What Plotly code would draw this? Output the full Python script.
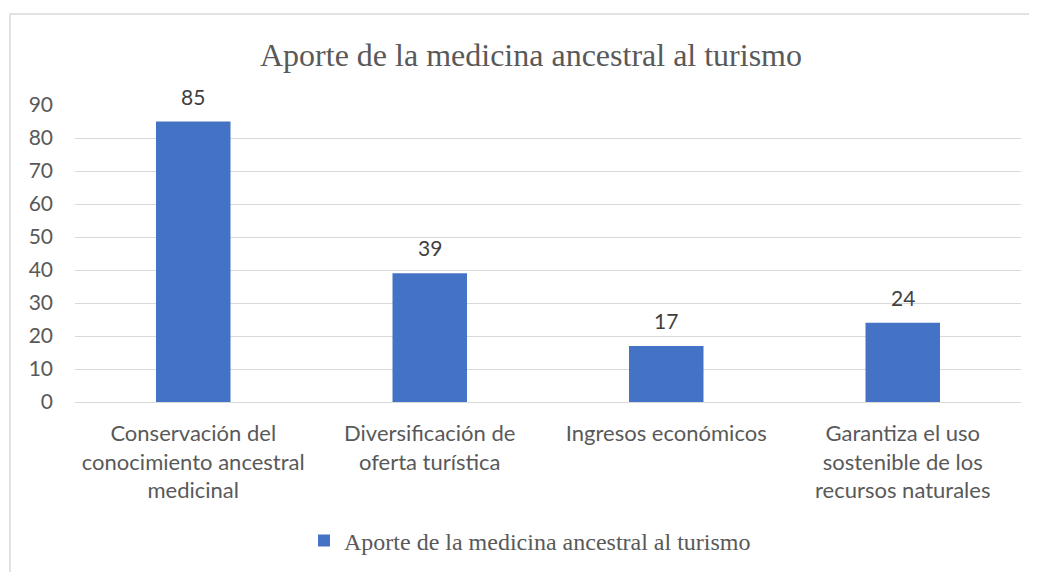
import plotly.graph_objects as go

categories = [
    "Conservación del<br>conocimiento ancestral<br>medicinal",
    "Diversificación de<br>oferta turística",
    "Ingresos económicos",
    "Garantiza el uso<br>sostenible de los<br>recursos naturales",
]
values = [85, 39, 17, 24]
series_name = "Aporte de la medicina ancestral al turismo"
title_text = "Aporte de la medicina ancestral al turismo"
y_ticks = [0, 10, 20, 30, 40, 50, 60, 70, 80, 90]

# page body has an 8px margin; compensate in figure coordinates
OFF = 8
W, H = 1037, 572
L, T = 75 - OFF, 105 - OFF
R = W - (1021 - OFF)
B = H - (402 - OFF)
pw = W - L - R
ph = H - T - B

SANS = "Lato, 'Open Sans', sans-serif"
SERIF = "'Liberation Serif', 'Times New Roman', serif"

fig = go.Figure()
fig.add_trace(go.Bar(
    x=categories, y=values, name=series_name,
    marker=dict(color="#4472C4", line=dict(width=0)),
    width=0.315,
    showlegend=True,
))

for c, v in zip(categories, values):
    fig.add_annotation(x=c, y=v, text=str(v), showarrow=False,
                       yanchor="bottom", yshift=11,
                       font=dict(family=SANS, size=21, color="#404040"))

fig.add_shape(type="rect", xref="paper", yref="paper",
              x0=(10 - 75) / pw, x1=1.2,
              y0=-1.0, y1=(402 - 14) / ph,
              line=dict(color="#d9d9d9", width=1.5), fillcolor="rgba(0,0,0,0)", layer="below")

fig.update_layout(
    width=W, height=H,
    margin=dict(l=L, r=R, t=T, b=B, pad=0),
    paper_bgcolor="white", plot_bgcolor="white",
    title=dict(text=title_text, x=(531 - OFF) / W, xanchor="center", xref="container",
               y=1 - (55 - OFF) / H, yanchor="middle", yref="container",
               font=dict(family=SERIF, size=32, color="#595959")),
    xaxis=dict(showgrid=False, showline=False, ticks="", ticklabelstandoff=16,
               tickfont=dict(family=SANS, size=22, color="#595959")),
    yaxis=dict(range=[0, 90], tickvals=y_ticks, showgrid=True, gridcolor="#d9d9d9", gridwidth=1,
               zeroline=True, zerolinecolor="#d9d9d9", zerolinewidth=1, showline=False,
               ticks="", ticklabelstandoff=21,
               tickfont=dict(family=SANS, size=21, color="#595959")),
    bargap=0.685,
    showlegend=True,
    legend=dict(orientation="h", x=(530 - 75) / pw, xanchor="center", y=(402 - 541) / ph, yanchor="middle",
                font=dict(family=SERIF, size=24, color="#595959"),
                itemwidth=30),
)

fig.write_html("out.html")
